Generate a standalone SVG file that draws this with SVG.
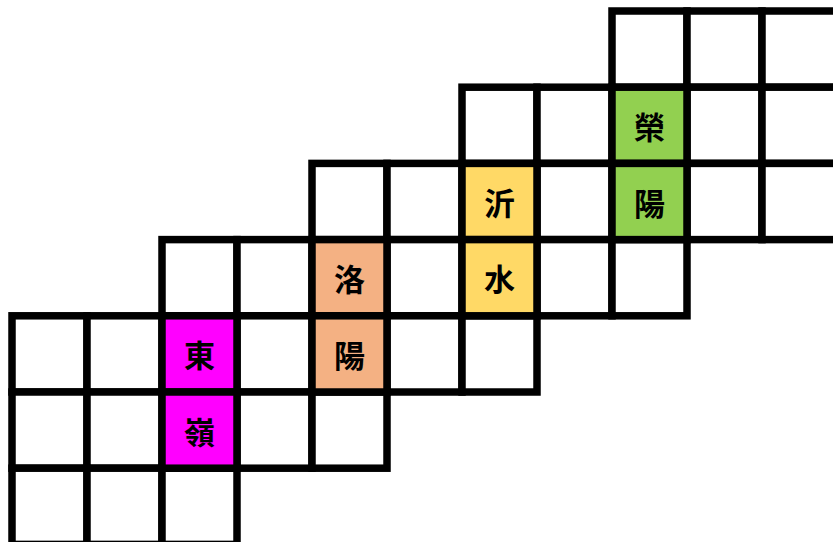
<svg xmlns="http://www.w3.org/2000/svg" width="833" height="542" viewBox="0 0 833 542">
<style>
.c{fill:#fff;stroke:#000;stroke-width:7.5}
.g{fill:#92D050;stroke:#000;stroke-width:7.5}
.y{fill:#FFD966;stroke:#000;stroke-width:7.5}
.o{fill:#F4B183;stroke:#000;stroke-width:7.5}
.m{fill:#FF00FF;stroke:#000;stroke-width:7.5}
text{font-family:"Noto Sans CJK TC","Noto Sans CJK SC",sans-serif;font-weight:bold;font-size:31px;fill:#000;text-anchor:middle;dominant-baseline:central}
</style>
<rect width="833" height="542" fill="#fff"/>
<g id="grid">
<rect class="c" x="612" y="11" width="75" height="76.2"/>
<rect class="c" x="687" y="11" width="75" height="76.2"/>
<rect class="c" x="762" y="11" width="75" height="76.2"/>
<rect class="c" x="462" y="87.2" width="75" height="76.2"/>
<rect class="c" x="537" y="87.2" width="75" height="76.2"/>
<rect class="c" x="687" y="87.2" width="75" height="76.2"/>
<rect class="c" x="762" y="87.2" width="75" height="76.2"/>
<rect class="c" x="312" y="163.4" width="75" height="76.2"/>
<rect class="c" x="387" y="163.4" width="75" height="76.2"/>
<rect class="c" x="537" y="163.4" width="75" height="76.2"/>
<rect class="c" x="687" y="163.4" width="75" height="76.2"/>
<rect class="c" x="762" y="163.4" width="75" height="76.2"/>
<rect class="c" x="162" y="239.6" width="75" height="76.2"/>
<rect class="c" x="237" y="239.6" width="75" height="76.2"/>
<rect class="c" x="387" y="239.6" width="75" height="76.2"/>
<rect class="c" x="537" y="239.6" width="75" height="76.2"/>
<rect class="c" x="612" y="239.6" width="75" height="76.2"/>
<rect class="c" x="12" y="315.8" width="75" height="76.2"/>
<rect class="c" x="87" y="315.8" width="75" height="76.2"/>
<rect class="c" x="237" y="315.8" width="75" height="76.2"/>
<rect class="c" x="387" y="315.8" width="75" height="76.2"/>
<rect class="c" x="462" y="315.8" width="75" height="76.2"/>
<rect class="c" x="12" y="392" width="75" height="76.2"/>
<rect class="c" x="87" y="392" width="75" height="76.2"/>
<rect class="c" x="237" y="392" width="75" height="76.2"/>
<rect class="c" x="312" y="392" width="75" height="76.2"/>
<rect class="c" x="12" y="468.2" width="75" height="76.2"/>
<rect class="c" x="87" y="468.2" width="75" height="76.2"/>
<rect class="c" x="162" y="468.2" width="75" height="76.2"/>
</g>
<g id="rong">
<rect class="g" x="612" y="87.2" width="75" height="76.2"/>
<text x="649.5" y="125.3">榮</text>
</g>
<g id="yang1">
<rect class="g" x="612" y="163.4" width="75" height="76.2"/>
<text x="649.5" y="201.5">陽</text>
</g>
<g id="yi">
<rect class="y" x="462" y="163.4" width="75" height="76.2"/>
<text x="499.5" y="201.5">沂</text>
</g>
<g id="shui">
<rect class="y" x="462" y="239.6" width="75" height="76.2"/>
<text x="499.5" y="277.7">水</text>
</g>
<g id="luo">
<rect class="o" x="312" y="239.6" width="75" height="76.2"/>
<text x="349.5" y="277.7">洛</text>
</g>
<g id="yang2">
<rect class="o" x="312" y="315.8" width="75" height="76.2"/>
<text x="349.5" y="353.9">陽</text>
</g>
<g id="dong">
<rect class="m" x="162" y="315.8" width="75" height="76.2"/>
<text x="199.5" y="353.9">東</text>
</g>
<g id="ling">
<rect class="m" x="162" y="392" width="75" height="76.2"/>
<text x="199.5" y="430.1">嶺</text>
</g>
<g id="connectors"/>
</svg>
